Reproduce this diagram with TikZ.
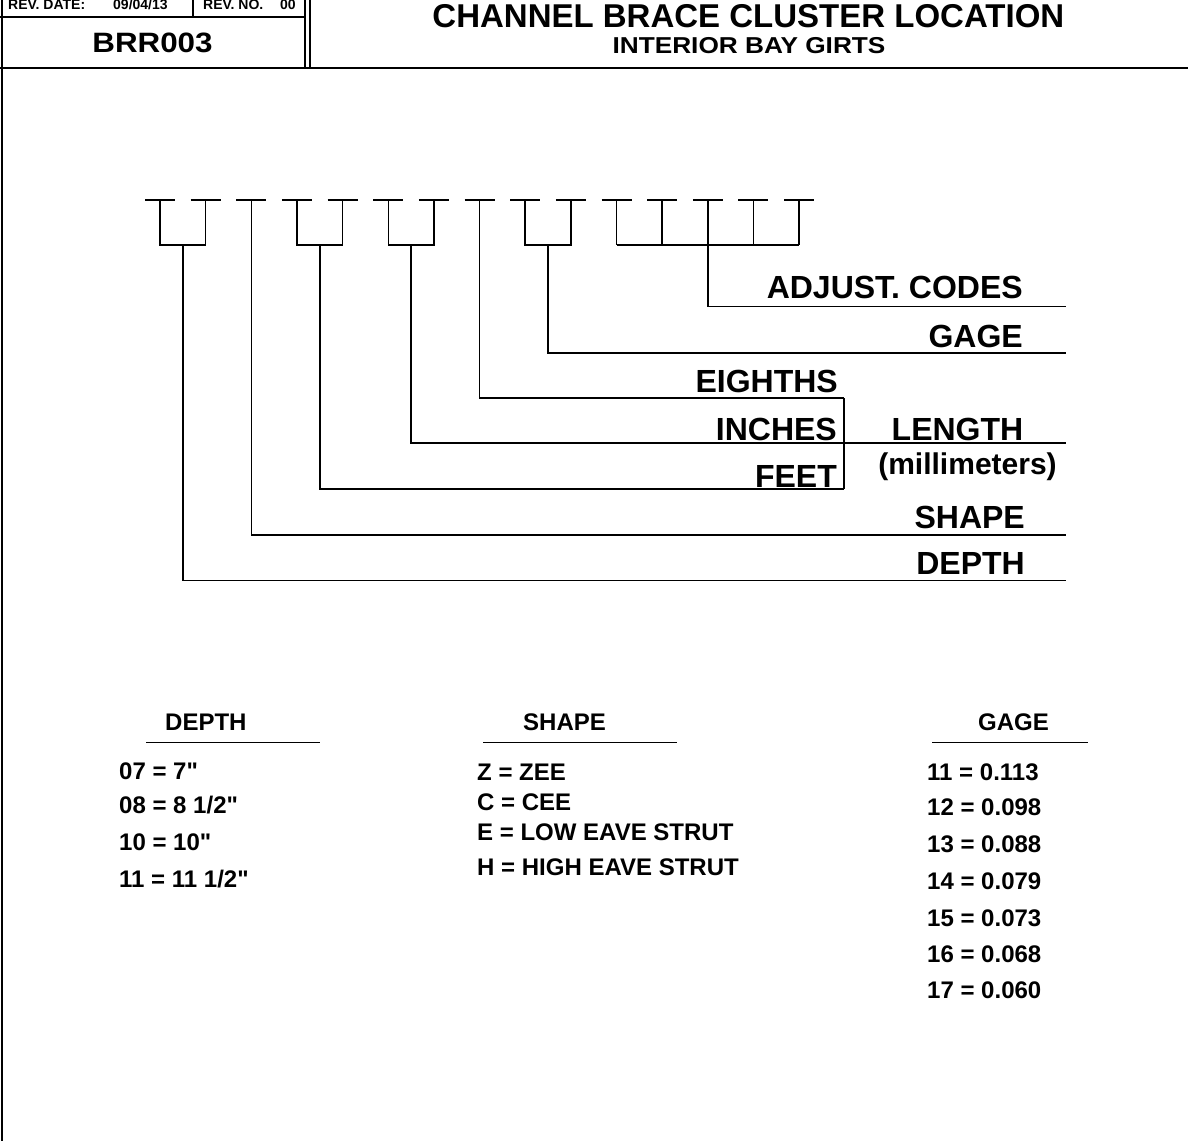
\documentclass[tikz,border=0pt]{standalone}
\usepackage{fontspec}
\setmainfont{Liberation Sans}[Ligatures=TeXOff]
\usepackage{graphicx}
\usetikzlibrary{calc}
\begin{document}
\begin{tikzpicture}[x=1pt,y=-1pt,
  frame/.style={line width=2pt},
  brk/.style={line width=1.5pt},
  big/.style={font=\bfseries\fontsize{32}{36}\selectfont, inner sep=0pt, anchor=base east},
  tbl/.style={font=\bfseries\fontsize{24}{28}\selectfont, inner sep=0pt, anchor=base west},
  hdr/.style={font=\bfseries\fontsize{14}{16}\selectfont, inner sep=0pt, anchor=base west}]
\useasboundingbox (0,0) rectangle (1188,1141);
% header frame
\draw[frame] (1.5,0) -- (1.5,1141);
\draw[frame] (0,68) -- (1188,68);
\draw[frame] (305,0) -- (305,68);
\draw[frame] (310,0) -- (310,68);
\draw[frame] (0,17) -- (305,17);
\draw[frame] (193,0) -- (193,17);
\node[hdr] (rd) at (8,9) {REV. DATE:};
\node[hdr] (rdv) at (113,9) {09/04/13};
\node[hdr] (rn) at (203,9) {REV. NO.};
\node[hdr] (rnv) at (280,9) {00};
\node[font=\bfseries\fontsize{28}{32}\selectfont, inner sep=0pt, anchor=base] (code) at (152.5,52.5) {\scalebox{1.12}[1]{BRR003}};
\node[font=\bfseries\fontsize{33}{38}\selectfont, inner sep=0pt, anchor=base] (title) at (748.4,27) {CHANNEL BRACE CLUSTER LOCATION};
\node[font=\bfseries\fontsize{23}{27}\selectfont, inner sep=0pt, anchor=base] (subtitle) at (749,53.3) {\scalebox{1.14}[1]{INTERIOR BAY GIRTS}};
% bracket ticks
\foreach \i in {0,...,14} {
  \pgfmathsetmacro\xx{160+45.65*\i}
  \coordinate (v\i) at (\xx,200);
  \coordinate (b\i) at (\xx,245);
  \draw[brk] (\xx-15,200) -- (\xx+15,200);
}
% U groups
\foreach \a/\b in {0/1,3/4,5/6,8/9} {
  \draw[brk] (v\a) -- (b\a) -- (b\b) -- (v\b);
}
\foreach \i in {10,...,14} { \draw[brk] (v\i) -- (b\i); }
\draw[brk] (b10) -- (b14);
% label lines
\coordinate (sd) at ($(b0)!0.5!(b1)$);
\coordinate (sf) at ($(b3)!0.5!(b4)$);
\coordinate (si) at ($(b5)!0.5!(b6)$);
\coordinate (sg) at ($(b8)!0.5!(b9)$);
\coordinate (lenT) at (844,398);
\coordinate (lenB) at (844,489);
\draw[brk] (sd) |- (1066,580.7) coordinate (ed);
\draw[brk] (v2) |- (1066,535) coordinate (es);
\draw[brk] (sf) |- (lenB);
\draw[brk] (si) |- (1066,443) coordinate (ei);
\draw[brk] (v7) |- (lenT);
\draw[brk] (sg) |- (1066,353) coordinate (eg);
\draw[brk] (b12) |- (1066,306.7) coordinate (ea);
\draw[brk] (lenT) -- (lenB);
% labels
\node[big] (ladj) at (1023,298) {ADJUST. CODES};
\node[big] (lgage) at (1023,347) {GAGE};
\node[big] (leig) at (838,392) {EIGHTHS};
\node[big] (linch) at (837,440) {INCHES};
\node[big] (lfeet) at (837,487) {FEET};
\node[big, anchor=base] (llen) at (957.5,440) {LENGTH};
\node[font=\bfseries\fontsize{30}{34}\selectfont, inner sep=0pt, anchor=base] (lmm) at (967.5,474) {(millimeters)};
\node[big] (lshape) at (1025,528) {SHAPE};
\node[big] (ldepth) at (1025,574) {DEPTH};
% tables
\node[tbl] (hd) at (165,730) {DEPTH};
\draw[brk] (146,742.7) -- (320,742.7);
\node[tbl] (d1) at (119,779) {07 = 7"};
\node[tbl] (d2) at (119,813) {08 = 8 1/2"};
\node[tbl] (d3) at (119,850) {10 = 10"};
\node[tbl] (d4) at (119,887) {11 = 11 1/2"};
\node[tbl] (hs) at (523,730) {SHAPE};
\draw[brk] (483,742.7) -- (677,742.7);
\node[tbl] (s1) at (477,780) {Z = ZEE};
\node[tbl] (s2) at (477,810) {C = CEE};
\node[tbl] (s3) at (477,840) {E = LOW EAVE STRUT};
\node[tbl] (s4) at (477,875) {H = HIGH EAVE STRUT};
\node[tbl] (hg) at (978,730) {GAGE};
\draw[brk] (932,742.7) -- (1088,742.7);
\node[tbl] (g1) at (927,780) {11 = 0.113};
\node[tbl] (g2) at (927,815) {12 = 0.098};
\node[tbl] (g3) at (927,852) {13 = 0.088};
\node[tbl] (g4) at (927,889) {14 = 0.079};
\node[tbl] (g5) at (927,926) {15 = 0.073};
\node[tbl] (g6) at (927,962) {16 = 0.068};
\node[tbl] (g7) at (927,998) {17 = 0.060};
\end{tikzpicture}
\end{document}
